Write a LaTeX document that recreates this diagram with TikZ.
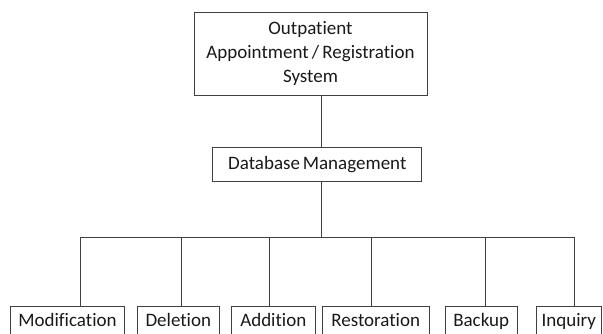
\documentclass[tikz,border=0pt]{standalone}
\usepackage{fontspec}
\setmainfont{Carlito}[Ligatures=NoCommon]
\begin{document}
\begin{tikzpicture}[x=1pt,y=-1pt,
  box/.style={draw=black!75, line width=0.9pt, inner sep=0pt, align=center, font=\fontsize{19}{24}\selectfont, text=black!90},
  one/.style={text height=13pt, text depth=4pt},
  ln/.style={draw=black!75, line width=0.9pt}]
\useasboundingbox (0,0) rectangle (603,333);
\node[box, minimum width=233pt, minimum height=83pt] (top) at (310.5,53.5) {Outpatient\\Appointment\,/\,Registration\\System};
\node[box, one, minimum width=209pt, minimum height=34pt] (db) at (317.3,164.8) {Database\hspace{0.15em}Management};
\node[box, one, minimum width=113.6pt, minimum height=32pt] (b1) at (67.5,322) {Modification};
\node[box, one, minimum width=81.3pt, minimum height=32pt] (b2) at (178.3,322) {Deletion};
\node[box, one, minimum width=83.3pt, minimum height=32pt] (b3) at (273.3,322) {Addition};
\node[box, one, minimum width=106.7pt, minimum height=32pt] (b4) at (375.7,322) {Restoration};
\node[box, one, minimum width=72.3pt, minimum height=32pt] (b5) at (481.2,322) {Backup};
\node[box, one, minimum width=65.7pt, minimum height=32pt] (b6) at (568.8,322) {Inquiry};
\coordinate (bus) at (321.5,237.3);
\coordinate (d1) at (80,237.3);
\coordinate (d2) at (181,237.3);
\coordinate (d3) at (269.3,237.3);
\coordinate (d4) at (371.7,237.3);
\coordinate (d5) at (485,237.3);
\coordinate (d6) at (574,237.3);
\draw[ln] (bus |- top.south) -- (bus |- db.north);
\draw[ln] (bus |- db.south) -- (bus);
\draw[ln] (d1) -- (d6);
\foreach \i in {1,...,6} {\draw[ln] (d\i) -- (d\i |- b\i.north);}
\end{tikzpicture}
\end{document}
